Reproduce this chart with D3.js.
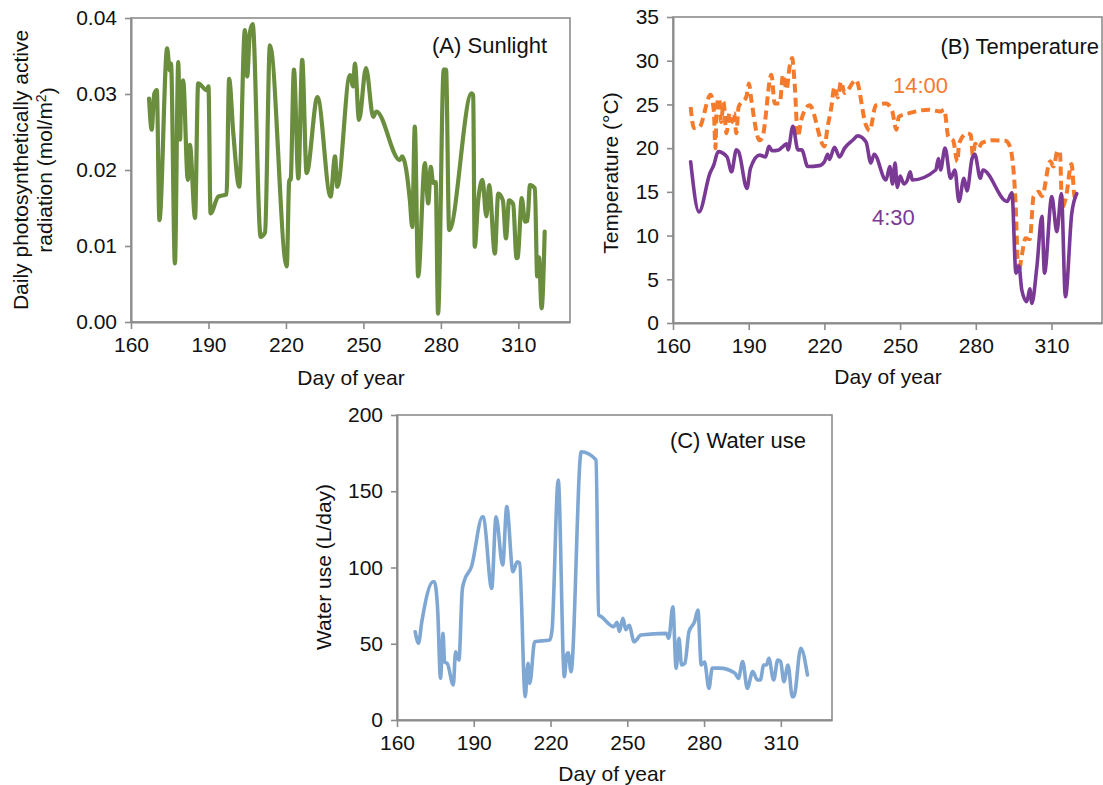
<!DOCTYPE html>
<html>
<head>
<meta charset="utf-8">
<script src="https://cdn.jsdelivr.net/npm/d3@7"></script>
<style>
  body { margin: 0; background: #fff; }
  svg { display: block; font-family: "Liberation Sans", Arial, sans-serif; }
</style>
</head>
<body>
<div id="chart"></div>
<script>
// day of year ticks shared by every panel
const dayTicks = [160, 190, 220, 250, 280, 310];

// (A) sunlight, daily PAR (mol/m2)
const sunDays = [167, 168, 169, 170, 171, 174, 175, 175.5, 177, 178.3, 179, 179.5, 180.2, 182, 182.8, 184.8, 186, 189.3, 190, 190.8,
  193.8, 197, 198, 199.6, 201.9, 204.1, 205, 206, 207.1, 210.2, 211.9, 213.8, 220.3, 221.3, 221.8, 223.1, 224.8, 226.3, 228, 232.2,
  237.3, 239, 239.9, 244.8, 246, 246.7, 248.3, 251, 253.8, 255, 264.1, 265, 268, 268.9, 269.9, 271.2, 273.8, 275.1, 276.1, 277,
  278, 278.9, 281.1, 282, 283.2, 291.9, 292.5, 293.1, 294.4, 296.1, 297.6, 298.7, 300.9, 302.2, 304, 305.2, 306.4, 308, 309.3, 309.8,
  311.3, 312.6, 313.5, 314.5, 316.4, 317.3, 318, 319, 320.2];
const sunValues = [0.0294, 0.0253, 0.0300, 0.0305, 0.0134, 0.0360, 0.0331, 0.0340, 0.0077, 0.0342, 0.0240, 0.0310, 0.0318, 0.0187, 0.0233, 0.0137, 0.0314, 0.0305, 0.0310, 0.0143,
  0.0165, 0.0168, 0.0320, 0.0249, 0.0178, 0.0384, 0.0323, 0.0380, 0.0392, 0.0112, 0.0118, 0.0364, 0.0073, 0.0187, 0.0187, 0.0332, 0.0189, 0.0345, 0.0196, 0.0296,
  0.0165, 0.0218, 0.0178, 0.0325, 0.0310, 0.0340, 0.0266, 0.0334, 0.0270, 0.0277, 0.0213, 0.0218, 0.0160, 0.0125, 0.0257, 0.0060, 0.0209, 0.0156, 0.0204, 0.0183,
  0.0184, 0.0011, 0.0332, 0.0332, 0.0121, 0.0301, 0.0298, 0.0099, 0.0158, 0.0187, 0.0139, 0.0180, 0.0090, 0.0169, 0.0160, 0.0110, 0.0160, 0.0155, 0.0084, 0.0085,
  0.0163, 0.0132, 0.0133, 0.0180, 0.0176, 0.0060, 0.0085, 0.0018, 0.0119];

// (B) temperature at 4:30 (deg C)
const lowDays = [167, 170.3, 174.6, 176.2, 177.9, 181.4, 183.2, 185.1, 186, 189.3, 190.7, 194.3, 196.7, 198, 199.3, 201.9, 203.8, 205, 205.6, 207.5,
  209.5, 211, 213.4, 218, 220, 221.3, 222, 224, 226, 228, 231.2, 233.2, 236.5, 238.4, 239.7, 244.4, 245.9, 247, 248, 248.9,
  250, 251.5, 252.8, 254, 254.8, 264.1, 265.2, 266, 267.8, 270, 271.7, 273.3, 275.3, 276.5, 278.5, 279.6, 281.8, 282.8, 292.4, 294.3,
  295.9, 297.1, 298.2, 300.2, 301.4, 302.2, 304.2, 306.2, 307.2, 310.1, 312.1, 313.9, 315.5, 318, 320];
const lowValues = [18.45, 12.7, 17.1, 18.1, 19.6, 19.0, 17.3, 19.8, 19.6, 15.4, 17.7, 19.2, 19.0, 20.2, 19.7, 19.8, 20.25, 20.5, 19.8, 22.5,
  19.8, 19.8, 17.9, 18.0, 18.45, 19.3, 18.7, 20.1, 19.0, 20.0, 20.9, 21.4, 20.7, 18.3, 19.3, 16.35, 17.9, 15.9, 18.3, 15.5,
  16.8, 15.9, 16.3, 17.3, 16.35, 17.5, 18.8, 17.5, 20.0, 16.55, 17.5, 13.9, 16.55, 15.1, 18.8, 19.3, 16.55, 17.5, 13.9, 14.9,
  5.7, 6.5, 3.8, 2.45, 3.9, 2.25, 6.45, 12.2, 5.7, 14.45, 10.45, 14.8, 3.0, 12.5, 14.8];

// (B) temperature at 14:00 (deg C)
const highDays = [167, 168.3, 170.4, 174.9, 176.2, 176.8, 177.3, 178.3, 179.1, 180, 181.2, 182.4, 183.5, 184.2, 185.1, 186, 189.1, 190.1, 191, 194.3,
  195.5, 199, 200.3, 202.3, 203.6, 205, 206.2, 207.2, 208.2, 209.5, 210.8, 214.1, 220, 221.3, 222.6, 224, 225.3, 226.6, 228, 232.5,
  236.5, 237.9, 240.4, 244.4, 246.9, 248.5, 249.5, 253.6, 261.4, 266, 267.5, 269.1, 271, 272.7, 273.4, 276.6, 278, 278.8, 279.8, 281,
  282.4, 286.4, 291.7, 293.5, 295.7, 296.9, 298.2, 299.7, 301.4, 302.9, 304.9, 306.2, 309.5, 310.8, 312.4, 313.3, 314.2, 315.8, 317.9, 319.2,
  320.3];
const highValues = [24.7, 22.3, 22.4, 26.1, 24.2, 20.0, 24.7, 25.7, 23.0, 25.3, 21.7, 24.0, 23.0, 24.0, 21.7, 24.7, 25.9, 27.4, 25.6, 20.9,
  21.3, 28.4, 25.1, 25.1, 28.4, 26.7, 29.3, 30.3, 27.4, 21.3, 23.2, 24.9, 20.2, 22.5, 24.4, 27.0, 25.8, 27.6, 26.3, 27.8,
  22.6, 22.0, 24.9, 25.1, 24.2, 22.1, 23.6, 24.0, 24.4, 24.2, 24.4, 21.3, 20.9, 18.45, 20.6, 21.7, 21.5, 19.2, 20.5, 20.0,
  20.6, 20.9, 20.85, 20.2, 14.1, 5.7, 7.7, 9.7, 9.6, 14.5, 15.0, 14.5, 18.5, 17.9, 19.7, 19.6, 13.2, 14.5, 18.2, 14.4,
  15.0];

// (C) water use (L/day)
const waterDays = [167.1, 168.4, 169.7, 174.1, 174.6, 175.9, 177, 178, 178.6, 179.6, 182, 182.9, 184.2, 185.5, 186.2, 189.1, 193.4, 193.8, 197, 198.7,
  201.3, 202.9, 205.3, 207, 207.9, 210.1, 211.2, 211.9, 213.8, 219.7, 220.6, 223, 225.4, 226.3, 226.9, 228, 232, 237.8, 238.8, 239.9,
  244.7, 246, 246.9, 248.3, 249.4, 250.7, 252.7, 255.3, 265.2, 266.2, 267.8, 269.1, 270.2, 271.2, 272.5, 274.1, 276.3, 277.6, 278.9, 280.2,
  281.9, 283.2, 286.1, 292.1, 293.4, 295.1, 296.9, 299, 300.9, 302, 303.3, 304.4, 305.3, 307.2, 308.8, 309.9, 311.2, 312.8, 314.5, 315.1,
  317.8, 320.4];
const waterValues = [57.9, 50.3, 64.5, 90.7, 90.7, 72, 27.3, 56.8, 38, 37.2, 23, 44.8, 39.3, 85.2, 90.7, 100.5, 133.3, 133, 86.3, 133.3,
  101.6, 139.9, 97.2, 103.8, 103, 15.3, 37.2, 24, 51.3, 52.5, 59, 157.4, 28.4, 42.6, 44, 31.7, 175.9, 170.5, 68.9, 67.7,
  61.2, 64, 58, 66.7, 59.2, 62.1, 51.3, 55.7, 56.8, 53.6, 74.3, 33.9, 53.6, 36.1, 37.2, 57.9, 64.5, 72.1, 36.1, 38,
  20.8, 34, 34, 30.6, 27.3, 38.3, 20.8, 31.7, 26.2, 26.2, 36.1, 36.1, 40.4, 26.2, 39.3, 38.3, 25.1, 36.1, 15.3, 15.3,
  47, 29.5];

const width = 1103, height = 785;
const font = 21;

const svg = d3.select("#chart").append("svg")
    .attr("width", width)
    .attr("height", height);

function panel({ left, right, top, bottom, yDomain, yTicks, yFormat, title, titleX, titleY, xLabelX, xLabelY }) {
    const x = d3.scaleLinear().domain([160, 330]).range([left, right]);
    const y = d3.scaleLinear().domain(yDomain).range([bottom, top]);
    const g = svg.append("g");

    // frame
    g.append("rect")
        .attr("x", left).attr("y", top)
        .attr("width", right - left).attr("height", bottom - top)
        .attr("fill", "none")
        .attr("stroke", "#8c8c8c")
        .attr("stroke-width", 1.6);

    const xAxis = g.append("g")
        .attr("transform", `translate(0,${bottom})`)
        .call(d3.axisBottom(x).tickValues(dayTicks).tickSize(7).tickSizeOuter(0).tickPadding(8));
    const yAxis = g.append("g")
        .attr("transform", `translate(${left},0)`)
        .call(d3.axisLeft(y).tickValues(yTicks).tickFormat(yFormat).tickSize(6).tickSizeOuter(0).tickPadding(8));

    for (const ax of [xAxis, yAxis]) {
        ax.select(".domain").attr("stroke", "#8c8c8c").attr("stroke-width", 2);
        ax.selectAll(".tick line").attr("stroke", "#8c8c8c").attr("stroke-width", 1.6);
        ax.selectAll(".tick text")
            .attr("fill", "#111")
            .style("font-size", font + "px")
            .style("font-family", "'Liberation Sans', Arial, sans-serif");
    }

    g.append("text")
        .attr("x", titleX).attr("y", titleY)
        .attr("text-anchor", "end")
        .style("font-size", "22px")
        .attr("fill", "#111")
        .text(title);

    g.append("text")
        .attr("x", xLabelX).attr("y", xLabelY)
        .attr("text-anchor", "middle")
        .style("font-size", font + "px")
        .attr("fill", "#111")
        .text("Day of year");

    return { x, y, g };
}

function drawLine(p, days, values, color, w, dash) {
    const line = d3.line()
        .x((d, i) => p.x(days[i]))
        .y(d => p.y(d))
        .curve(d3.curveMonotoneX);
    p.g.append("path")
        .datum(values)
        .attr("fill", "none")
        .attr("stroke", color)
        .attr("stroke-width", w)
        .attr("stroke-linejoin", "round")
        .attr("stroke-linecap", dash ? "butt" : "round")
        .attr("stroke-dasharray", dash || null)
        .attr("d", line);
}

function yLabel(lines, cx, cy) {
    const t = svg.append("text")
        .attr("transform", `translate(${cx},${cy}) rotate(-90)`)
        .attr("text-anchor", "middle")
        .style("font-size", font + "px")
        .attr("fill", "#111");
    lines.forEach((l, i) => {
        const ts = t.append("tspan").attr("x", 0).attr("dy", i === 0 ? 0 : "1.15em");
        if (Array.isArray(l)) {
            ts.text(l[0]);
            t.append("tspan").attr("dy", "-0.45em").style("font-size", "14px").text(l[1]);
            t.append("tspan").attr("dy", "0.45em").text(l[2]);
        } else {
            ts.text(l);
        }
    });
}

// (A) Sunlight
const pA = panel({
    left: 131, right: 570, top: 18, bottom: 322,
    yDomain: [0, 0.04], yTicks: [0, 0.01, 0.02, 0.03, 0.04], yFormat: d3.format(".2f"),
    title: "(A) Sunlight", titleX: 547, titleY: 53,
    xLabelX: 351, xLabelY: 385
});
drawLine(pA, sunDays, sunValues, "#6a8e3e", 4.2);
yLabel(["Daily photosynthetically active", ["radiation (mol/m", "2", ")"]], 28, 170);

// (B) Temperature
const pB = panel({
    left: 673, right: 1102, top: 17, bottom: 323,
    yDomain: [0, 35], yTicks: [0, 5, 10, 15, 20, 25, 30, 35], yFormat: d3.format("d"),
    title: "(B) Temperature", titleX: 1099, titleY: 54,
    xLabelX: 888, xLabelY: 384
});
drawLine(pB, highDays, highValues, "#f47a2c", 4, "9,5");
drawLine(pB, lowDays, lowValues, "#7b3996", 3.6);
pB.g.append("text").attr("x", 893).attr("y", 93).style("font-size", "22px").attr("fill", "#f47a2c").text("14:00");
pB.g.append("text").attr("x", 872).attr("y", 225).style("font-size", "22px").attr("fill", "#7b3996").text("4:30");
yLabel(["Temperature (°C)"], 618, 173);

// (C) Water use
const pC = panel({
    left: 397, right: 832, top: 415, bottom: 720,
    yDomain: [0, 200], yTicks: [0, 50, 100, 150, 200], yFormat: d3.format("d"),
    title: "(C) Water use", titleX: 806, titleY: 448,
    xLabelX: 612, xLabelY: 781
});
drawLine(pC, waterDays, waterValues, "#7fa7d3", 3.6);
yLabel(["Water use (L/day)"], 331, 567);
</script>
</body>
</html>
